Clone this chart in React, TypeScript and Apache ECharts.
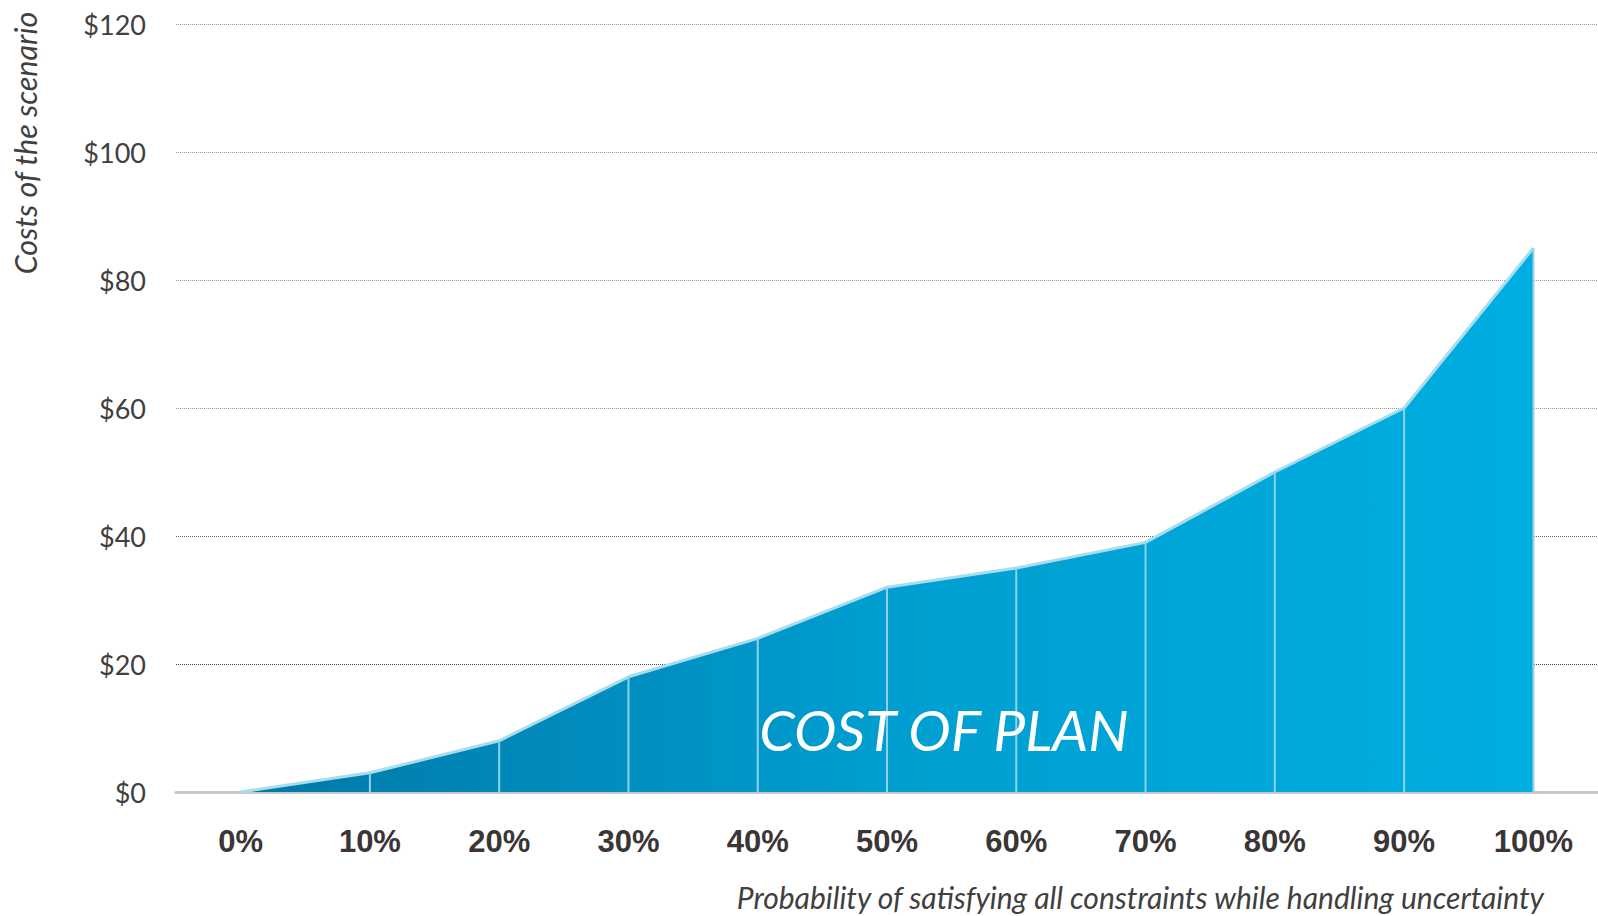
import React, { useEffect, useRef } from "react";
import * as echarts from "echarts";

const categories = ["0%", "10%", "20%", "30%", "40%", "50%", "60%", "70%", "80%", "90%", "100%"];
const costValues = [0, 3, 8, 18, 24, 32, 35, 39, 50, 60, 85];
const yTicks = { min: 0, max: 120, interval: 20 };
const yAxisTitle = "Costs of the scenario";
const xAxisTitle = "Probability of satisfying all constraints while handling uncertainty";
const areaLabel = "COST OF PLAN";

export default function App() {
  const ref = useRef<HTMLDivElement>(null);
  useEffect(() => {
    if (!ref.current) return;
    const chart = echarts.init(ref.current, undefined, { renderer: "svg" });
    chart.setOption({
      animation: false,
      backgroundColor: "#ffffff",
      grid: { left: 176, right: 0, top: 24, bottom: 124 },
      xAxis: {
        type: "category",
        data: categories,
        boundaryGap: true,
        axisLine: { show: true, lineStyle: { color: "#c8c8c8", width: 3 } },
        axisTick: { show: false },
        axisLabel: {
          fontFamily: "Liberation Sans",
          fontWeight: "bold",
          fontSize: 31,
          color: "#3b3536",
          margin: 34,
        },
        splitLine: { show: false },
      },
      yAxis: {
        type: "value",
        min: yTicks.min,
        max: yTicks.max,
        interval: yTicks.interval,
        axisLine: { show: false },
        axisTick: { show: false },
        axisLabel: {
          formatter: (v: number) => "$" + v,
          fontFamily: "Lato",
          fontSize: 27,
          color: "#404040",
          margin: 30,
        },
        splitLine: {
          show: true,
          lineStyle: {
            type: "dotted",
            width: 1,
            color: ["#bbbbbb", "#444444", "#666666", "#999999", "#9a9a9a", "#9a9a9a", "#9a9a9a"],
          },
        },
      },
      series: [
        {
          type: "line",
          data: costValues,
          symbol: "none",
          z: 2,
          lineStyle: { color: "#a8ddf0", width: 3 },
          areaStyle: {
            opacity: 1,
            color: new echarts.graphic.LinearGradient(0, 0, 1, 0, [
              { offset: 0, color: "#0078a6" },
              { offset: 0.5, color: "#009ed0" },
              { offset: 1, color: "#00aee1" },
            ]),
          },
        },
        {
          type: "bar",
          data: costValues,
          barWidth: 2,
          z: 3,
          itemStyle: { color: "#8ed2ea" },
        },
      ],
      graphic: [
        {
          type: "text",
          x: 25,
          y: 143,
          rotation: Math.PI / 2,
          style: {
            text: yAxisTitle,
            fontFamily: "Lato",
            fontStyle: "italic",
            fontSize: 30.5,
            fill: "#404040",
            align: "center",
            verticalAlign: "middle",
          },
        },
        {
          type: "text",
          x: 1544,
          y: 897,
          style: {
            text: xAxisTitle,
            fontFamily: "Lato",
            fontStyle: "italic",
            fontSize: 30,
            fill: "#404040",
            align: "right",
            verticalAlign: "middle",
          },
        },
        {
          type: "text",
          x: 944,
          y: 729,
          z: 10,
          style: {
            text: areaLabel,
            fontFamily: "Lato",
            fontStyle: "italic",
            fontSize: 57,
            fill: "#ffffff",
            align: "center",
            verticalAlign: "middle",
          },
        },
      ],
    });
    return () => chart.dispose();
  }, []);
  return (
    <div
      ref={ref}
      style={{ position: "fixed", left: 0, top: 0, width: 1598, height: 916 }}
    />
  );
}
